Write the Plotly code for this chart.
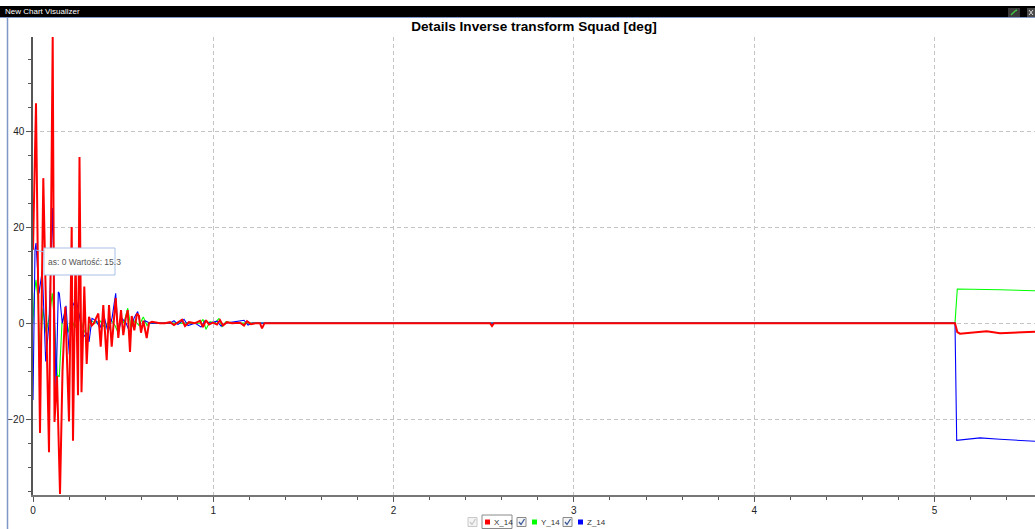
import plotly.graph_objects as go

# ---------------- data ----------------
# pixel columns were converted to time: t = (px - 33) / 180.3
PX0, PXU = 33.0, 180.3

x14_px = [33, 36, 38, 40, 43.3, 46, 49, 52.7, 54.5, 57, 60, 62.5, 65.3, 69, 71.7, 73, 75.5, 78,
          79.5, 81.5, 84.3, 86.7, 89, 91.7, 94, 96, 98.3, 100.7, 103.3, 106.7, 109, 111.7, 115.7,
          118.3, 121, 123.3, 125.7, 127.7, 130, 131.7, 134.3, 137, 139, 141, 143.3, 146.7, 149,
          152, 160, 165, 170, 174, 178, 182, 185, 189, 195, 200, 203, 206, 209, 213, 217, 220,
          223, 227, 232, 240, 244, 247, 251, 256, 260, 262, 264.5, 490, 492, 494, 955, 957.3,
          960, 970, 986.7, 1000, 1015, 1026.7, 1035]
x14_val = [15.3, 45.8, 10, -22.9, 30.2, 5, -26.9, 59.6, -20.6, -11, -35.6, -10, 3.4, -20.5, 20,
           -24.5, 14, -15, 34.6, -14.4, 7.6, -8.5, 1.3, -0.5, 0, 1, 2, -4.9, 3.75, -7.7, 3.75,
           -4.9, 5.2, -3.1, 2.7, -2.5, 1, 2.7, -6, 1.5, -1.5, 2, 1.5, -2, 0.5, -3.1, 0, 0.3, 0,
           0, 0.2, -0.4, 0.1, 0.7, -0.6, 0.2, 0, 0.5, -0.8, 0.6, -0.3, 0.1, -0.3, 0.6, -0.5, 0.2,
           0, 0.1, -0.5, 0.4, -0.2, 0, 0, -1.1, 0, 0, -0.6, 0, 0, -1.85, -2.2, -2.0, -1.7, -2.1,
           -2.0, -1.8, -1.8]

y14_px = [33, 34.3, 36, 38, 40, 43, 46, 49, 52.3, 54.5, 57.3, 59.3, 62, 65, 68, 71, 75, 79, 83,
          87.3, 91, 95, 100, 105, 110, 115, 117.7, 121, 124, 127.7, 131, 135, 139, 143.3, 147,
          150, 200, 203, 206, 210, 215, 219, 222, 226, 232, 955, 957.3, 990, 1000, 1035]
y14_val = [0, 6.2, 9, 5, -6.7, 3, -2, 1, 6.2, 0, -10.8, -11.2, 0, 2, -2, 1, -1, 2, -1, -3, 0.5,
           0, 0.5, -1, 1, -0.5, -1.8, 1, 0, 3.1, -1, 0.5, -0.5, 1.3, -0.5, 0, 0, 0.8, -1.3, 0.3,
           0, 1, -0.8, 0.3, 0, 0, 7.1, 7.05, 6.95, 6.75]

z14_px = [33, 35, 36, 39, 42.3, 45.7, 49, 52.7, 56, 58.3, 59.3, 62.3, 66, 69.3, 72.7, 76, 79, 83,
          87, 89, 92, 96, 100, 104, 108, 112, 115.7, 118, 122, 126, 130, 134, 137.7, 141, 145,
          150, 170, 174, 178, 184, 188, 195, 201, 205, 210, 217, 221, 226, 244, 248, 252, 955,
          956.7, 980, 1000, 1035]
z14_val = [-16, 15.3, 16.7, 6.2, 11, -8, 0, 24, -14.3, 6.5, 6.2, 0, 3.6, -6.5, 3.6, 5, 2, -3, -2,
           -3.9, 1, 0.5, -1, 1.5, -2, 1, 6.2, -2, 1, 0, -2, 1, 2.4, -1, 0.5, 0, 0, 0.5, -0.3, 0.8,
           -0.5, 0, -0.8, 0.5, 0, 0.4, -0.6, 0, 0.6, -0.4, 0, 0, -24.4, -23.9, -24.2, -24.6]

x_tick_vals = [0, 1, 2, 3, 4, 5]
y_tick_vals = [-20, 0, 20, 40]
series_names = ["X_14", "Y_14", "Z_14"]
series_colors = ["#ff0000", "#00ff00", "#0000ff"]

def to_t(pxs):
    return [(p - PX0) / PXU for p in pxs]

# ---------------- geometry helpers ----------------
W, H = 1035, 529
L, R, T, B = 33, 0, 37, 34
PW, PH = W - L - R, H - T - B

def fx(p):
    return (p - L) / PW

def fy(p):
    return (H - B - p) / PH

def check_path(pts):
    return "M " + " L ".join(f"{fx(a):.5f},{fy(b):.5f}" for a, b in pts)

fig = go.Figure()
fig.add_trace(go.Scatter(x=to_t(y14_px), y=y14_val, mode="lines", name=series_names[1],
                         line=dict(color=series_colors[1], width=1.1)))
fig.add_trace(go.Scatter(x=to_t(z14_px), y=z14_val, mode="lines", name=series_names[2],
                         line=dict(color=series_colors[2], width=1.1)))
fig.add_trace(go.Scatter(x=to_t(x14_px), y=x14_val, mode="lines", name=series_names[0],
                         line=dict(color=series_colors[0], width=2)))

axis_font = dict(family="Liberation Sans, Arial, sans-serif", size=10, color="#222222")
fig.update_layout(
    width=W, height=H, margin=dict(l=L, r=R, t=T, b=B, pad=0),
    paper_bgcolor="white", plot_bgcolor="white", showlegend=False,
    title=dict(text="<b>Details Inverse transform Squad [deg]</b>", x=0.5, xref="paper",
               y=1 - 26 / H, yref="container", xanchor="center", yanchor="middle",
               font=dict(family="Liberation Sans, Arial, sans-serif", size=13.6, color="#000000")),
    xaxis=dict(range=[0, (W - L) / PXU], tickmode="array", tickvals=x_tick_vals,
               ticks="outside", ticklen=5, tickcolor="#555555", tickfont=axis_font,
               showline=True, linecolor="#777777", linewidth=2,
               showgrid=True, gridcolor="#c4c4c4", griddash="4px,3px", gridwidth=1,
               zeroline=False,
               minor=dict(dtick=0.2, tick0=0, ticks="outside", ticklen=3, tickcolor="#555555",
                          showgrid=False)),
    yaxis=dict(range=[-35.8, 59.6], tickmode="array", tickvals=y_tick_vals,
               ticks="outside", ticklen=5, tickcolor="#555555", tickfont=axis_font,
               showline=True, linecolor="#555555", linewidth=1.5,
               showgrid=True, gridcolor="#c4c4c4", griddash="4px,3px", gridwidth=1,
               zeroline=False,
               minor=dict(dtick=5, tick0=0, ticks="outside", ticklen=3, tickcolor="#555555",
                          showgrid=False)),
)

shapes = []
annots = []
# window header
shapes.append(dict(type="rect", xref="paper", yref="paper", x0=fx(0), x1=fx(W), y0=fy(17), y1=fy(6),
                   fillcolor="#000000", line=dict(width=0), layer="above"))
shapes.append(dict(type="line", xref="paper", yref="paper", x0=fx(0), x1=fx(W), y0=fy(17.5), y1=fy(17.5),
                   line=dict(color="#7d98c8", width=1), layer="above"))
shapes.append(dict(type="line", xref="paper", yref="paper", x0=fx(7.5), x1=fx(7.5), y0=fy(529), y1=fy(17),
                   line=dict(color="#7d98c8", width=1.5), layer="above"))
annots.append(dict(text="New Chart Visualizer", xref="paper", yref="paper", x=fx(3), y=fy(11.5),
                   xanchor="left", yanchor="middle", showarrow=False,
                   font=dict(family="Liberation Sans, Arial, sans-serif", size=8, color="#ffffff")))
shapes.append(dict(type="rect", xref="paper", yref="paper", x0=fx(1008), x1=fx(1020), y0=fy(17), y1=fy(8),
                   fillcolor="#3a3a3a", line=dict(width=0), layer="above"))
shapes.append(dict(type="rect", xref="paper", yref="paper", x0=fx(1027), x1=fx(1035), y0=fy(17), y1=fy(8),
                   fillcolor="#4a4a4a", line=dict(width=0), layer="above"))
shapes.append(dict(type="path", xref="paper", yref="paper",
                   path=check_path([(1011, 15), (1013, 13), (1015, 11), (1017, 10)]),
                   line=dict(color="#3fbf3f", width=1.5), layer="above"))
shapes.append(dict(type="path", xref="paper", yref="paper",
                   path=check_path([(1029, 10), (1033, 15)]) + " " +
                        check_path([(1033, 10), (1029, 15)]),
                   line=dict(color="#dddddd", width=1), layer="above"))

# tooltip box
shapes.append(dict(type="rect", xref="paper", yref="paper", x0=fx(44), x1=fx(115), y0=fy(275), y1=fy(248),
                   fillcolor="#ffffff", line=dict(color="#a9bfe6", width=1), layer="above"))
shapes.append(dict(type="line", xref="paper", yref="paper", x0=fx(36), x1=fx(44), y0=fy(250), y1=fy(252),
                   line=dict(color="#a9bfe6", width=1), layer="above"))
annots.append(dict(text="as: 0 Wartość: 15.3", xref="paper", yref="paper", x=fx(45.5), y=fy(262),
                   xanchor="left", yanchor="middle", showarrow=False,
                   font=dict(family="Liberation Sans, Arial, sans-serif", size=8.5, color="#555555")))

# bottom legend (check boxes + coloured squares + names)
leg_y = 522
boxes = [(468, "#c8c8c8", "#c8c8c8"), (517, "#8a8a8a", "#3a5a9a"), (563, "#8a8a8a", "#3a5a9a")]
for bx, bc, cc in boxes:
    shapes.append(dict(type="rect", xref="paper", yref="paper", x0=fx(bx), x1=fx(bx + 9),
                       y0=fy(leg_y + 4.5), y1=fy(leg_y - 4.5), fillcolor="#f4f4f4",
                       line=dict(color=bc, width=1), layer="above"))
    shapes.append(dict(type="path", xref="paper", yref="paper",
                       path=check_path([(bx + 2, leg_y), (bx + 4, leg_y + 2.5), (bx + 7.5, leg_y - 3)]),
                       line=dict(color=cc, width=1.3), layer="above"))
shapes.append(dict(type="rect", xref="paper", yref="paper", x0=fx(482), x1=fx(512),
                   y0=fy(528.5), y1=fy(515), fillcolor="rgba(0,0,0,0)",
                   line=dict(color="#8a8a8a", width=1), layer="above"))
sq_x = [485, 532, 578]
for sx, nm, col in zip(sq_x, series_names, series_colors):
    shapes.append(dict(type="rect", xref="paper", yref="paper", x0=fx(sx), x1=fx(sx + 5),
                       y0=fy(leg_y + 2.5), y1=fy(leg_y - 2.5), fillcolor=col,
                       line=dict(width=0), layer="above"))
    annots.append(dict(text=nm, xref="paper", yref="paper", x=fx(sx + 7), y=fy(leg_y),
                       xanchor="left", yanchor="middle", showarrow=False,
                       font=dict(family="Liberation Sans, Arial, sans-serif", size=8, color="#333333")))

fig.update_layout(shapes=shapes, annotations=annots)
fig.write_html("out.html", config={"displayModeBar": False},
               post_script="document.body.style.margin='0px';document.body.style.overflow='hidden';")
